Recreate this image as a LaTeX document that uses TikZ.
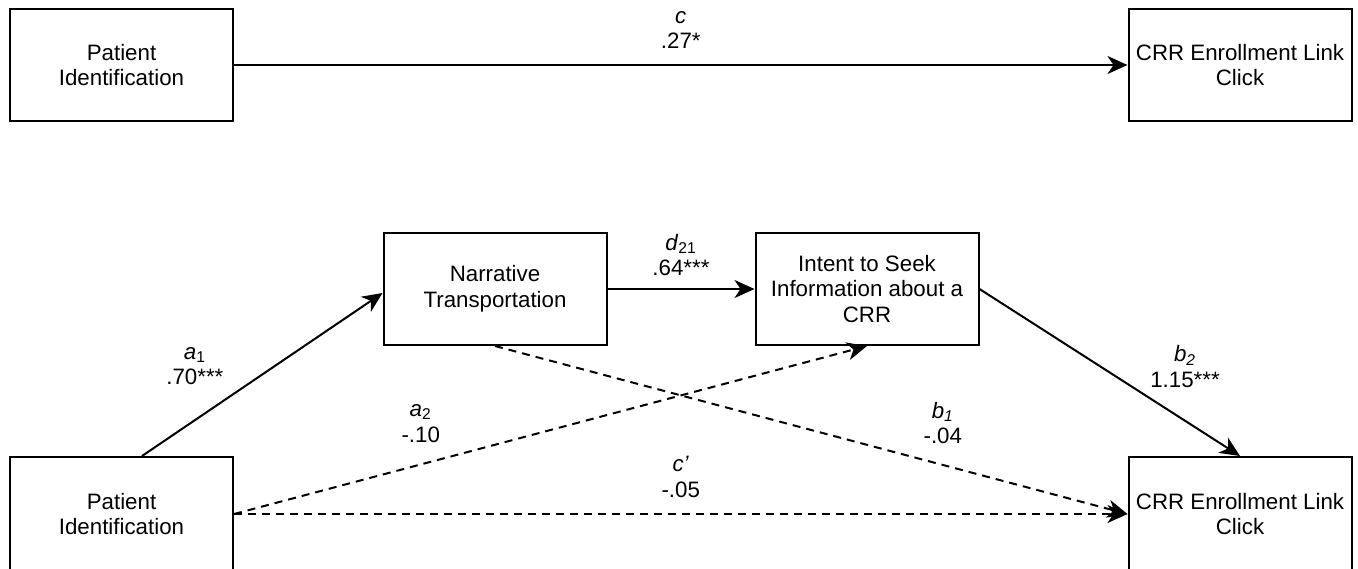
\documentclass[tikz,border=0pt]{standalone}
\usepackage{fontspec}
\setmainfont{Liberation Sans}
\usetikzlibrary{arrows.meta}
\tikzset{
	var/.style={draw, line width=1pt, minimum width=111.5pt, minimum height=56pt,
		align=center, inner sep=2pt},
	coef/.style={align=center, inner sep=0pt},
	indirect/.style={dash pattern=on 4pt off 3pt}
}
\begin{document}
\begin{tikzpicture}[x=0.5pt, y=-0.5pt, line width=1pt,
	font=\fontsize{11.15}{12.8}\selectfont,
	>={Stealth[length=10pt, width=9pt, inset=3pt]}]
	\useasboundingbox (0,0) rectangle (1358,568);
	% total effect
	\node [var] (pidtop) at (121.5,65) 
		{Patient\\Identification};
	\node [var] (crrtop) at (1240,65) 
		{CRR Enrollment Link\\Click};
	\draw [ -> ] (pidtop) to 
		node [coef, yshift=17.5pt] {\textit{c}\\.27*} 
		(crrtop);
	% serial mediation model
	\node [var] (narr) at (495,289) 
		{Narrative\\Transportation};
	\node [var] (intent) at (867,289) 
		{Intent to Seek\\Information about a\\CRR};
	\node [var, minimum height=57pt] (pidbot) at (121.5,514) 
		{Patient\\Identification};
	\node [var, minimum height=57pt] (crrbot) at (1240,514) 
		{CRR Enrollment Link\\Click};
	\draw [ -> ] ([xshift=10.25pt]pidbot.north) to 
		node [coef, pos=0.22, yshift=27pt] {\textit{a}\textsubscript{1}\\.70***} 
		([yshift=-2pt]narr.west);
	\draw [ -> ] (narr) to 
		node [coef, yshift=17pt] {\textit{d}\textsubscript{21}\\.64***} 
		(intent);
	\draw [ ->, indirect ] (pidbot.east) to 
		node [coef, pos=0.295, yshift=20.5pt] {\textit{a}\textsubscript{2}\\-.10} 
		(intent.south);
	\draw [ ->, indirect ] (narr.south) to 
		node [coef, pos=0.708, yshift=21pt] {\textit{b}\textsubscript{\textit{1}}\\-.04} 
		(crrbot.west);
	\draw [ -> ] (intent.east) to 
		node [coef, pos=0.789, yshift=27pt] {\textit{b}\textsubscript{\textit{2}}\\1.15***} 
		(crrbot.north);
	\draw [ ->, indirect ] (pidbot) to 
		node [coef, yshift=18.5pt] {\textit{c'}\\-.05} 
		(crrbot);
\end{tikzpicture}
\end{document}
